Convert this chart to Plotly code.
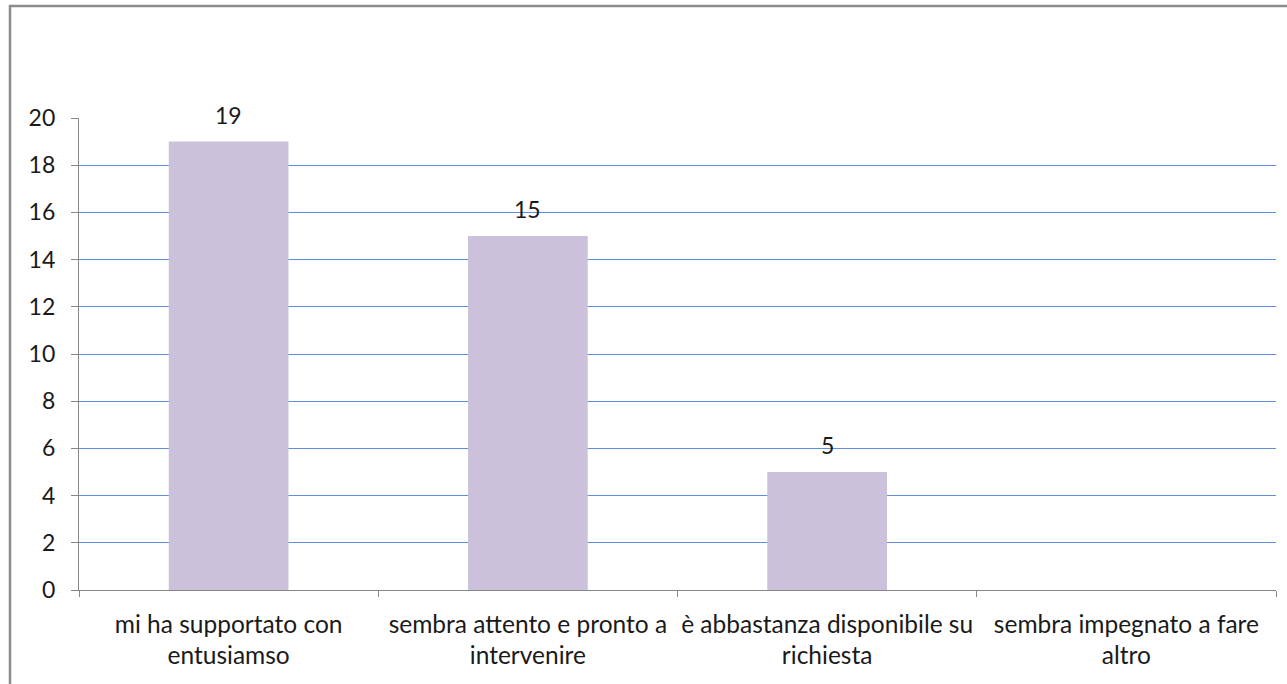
import plotly.graph_objects as go

categories = [
    "mi ha supportato con<br>entusiamso",
    "sembra attento e pronto a<br>intervenire",
    "è abbastanza disponibile su<br>richiesta",
    "sembra impegnato a fare<br>altro",
]
values = [19, 15, 5, None]
y_ticks = [0, 2, 4, 6, 8, 10, 12, 14, 16, 18, 20]

FONT = "Lato, 'Open Sans', sans-serif"
TEXT = "#1a1a1a"
AXIS_GREY = "#878787"
GRID_BLUE = "#5F8FDD"
BAR_COLOR = "#CBC1DA"

fig = go.Figure(
    go.Bar(
        x=categories,
        y=values,
        marker=dict(color=BAR_COLOR, line=dict(width=0)),
        hoverinfo="skip",
    )
)

# value labels above each bar
for cat, val in zip(categories, values):
    if val is None:
        continue
    fig.add_annotation(
        x=cat, y=val, text=str(val), showarrow=False,
        yanchor="bottom", yshift=11,
        font=dict(family=FONT, size=23, color=TEXT),
    )

W, H = 1287, 684
ML, MR, MT, MB = 79, 11, 118, 94
pw, ph = W - ML - MR, H - MT - MB

def px_to_paper_x(px):
    return (px - ML) / pw

def px_to_paper_y(py):
    return (H - MB - py) / ph

# outer chart frame
fig.add_shape(
    type="rect", xref="paper", yref="paper",
    x0=px_to_paper_x(10), x1=px_to_paper_x(1300),
    y0=px_to_paper_y(700), y1=px_to_paper_y(6),
    line=dict(color="#8C8C8C", width=2.5), layer="below",
)

fig.update_layout(
    width=W, height=H,
    margin=dict(l=ML, r=MR, t=MT, b=MB, autoexpand=False),
    paper_bgcolor="white", plot_bgcolor="white",
    bargap=0.6,
    showlegend=False,
    font=dict(family=FONT, size=23, color=TEXT),
    xaxis=dict(
        type="category",
        showline=True, linecolor=AXIS_GREY, linewidth=1.3,
        ticks="outside", tickson="boundaries", ticklen=6, tickcolor=AXIS_GREY,
        showgrid=False,
        tickangle=0, automargin=False,
        tickfont=dict(family=FONT, size=24.5, color=TEXT),
        ticklabelstandoff=12,
    ),
    yaxis=dict(
        range=[0, 20], tickvals=y_ticks,
        showline=True, linecolor=AXIS_GREY, linewidth=1.3,
        ticks="outside", ticklen=7, tickcolor=AXIS_GREY,
        showgrid=True, gridcolor=GRID_BLUE, gridwidth=1.4,
        zeroline=False, automargin=False,
        tickfont=dict(family=FONT, size=23, color=TEXT),
        ticklabelstandoff=11,
    ),
)

fig.write_html("out.html")
